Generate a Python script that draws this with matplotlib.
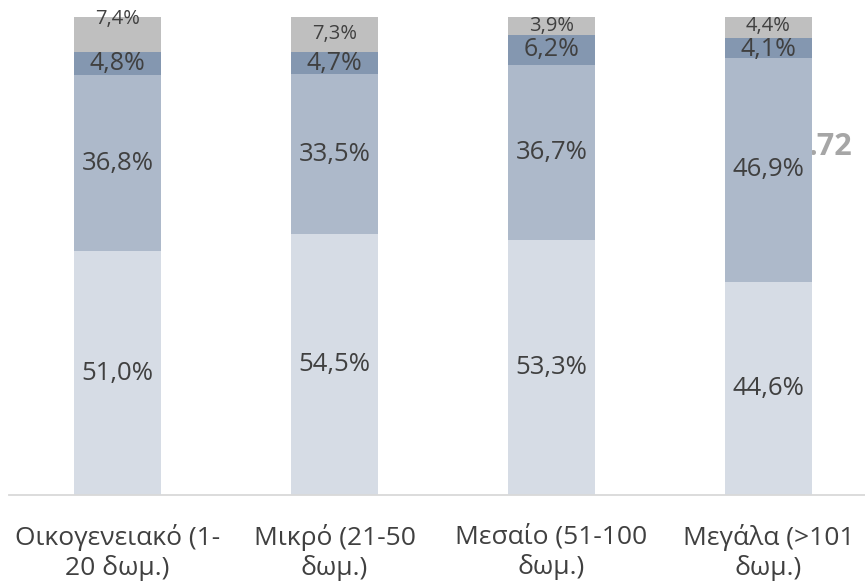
import matplotlib
matplotlib.use("Agg")
import matplotlib.pyplot as plt
import numpy as np

categories = ["Οικογενειακό (1-\n20 δωμ.)", "Μικρό (21-50\nδωμ.)",
              "Μεσαίο (51-100\nδωμ.)", "Μεγάλα (>101\nδωμ.)"]
s1 = [51.0, 54.5, 53.3, 44.6]
s2 = [36.8, 33.5, 36.7, 46.9]
s3 = [4.8, 4.7, 6.2, 4.1]
s4 = [7.4, 7.3, 3.9, 4.4]
stray_text = ".72"

series = [s1, s2, s3, s4]
colors = ["#D6DCE5", "#ADB9CA", "#8497B0", "#BFBFBF"]
label_sizes = [18.5, 18.5, 18.0, 14.5]
# vertical offsets (in % units) for individual labels (style only)
label_offsets = [[0, 0, 0, 0], [0, 0, 0, 0], [0, 0, 0, -0.3], [3.3, 0, 0, 0.3]]

W, H = 865, 587
fig = plt.figure(figsize=(W / 100, H / 100), dpi=100)
ax = fig.add_axes([9 / W, 92 / H, 868 / W, 478 / H])

x = np.arange(len(categories))
bottom = np.zeros(len(categories))
for k, vals in enumerate(series):
    vals = np.array(vals)
    ax.bar(x, vals, width=0.4, bottom=bottom, color=colors[k], zorder=2,
           edgecolor="none")
    for i, v in enumerate(vals):
        ax.text(x[i], bottom[i] + v / 2 + label_offsets[k][i],
                f"{v:.1f}%".replace(".", ","),
                ha="center", va="center", fontsize=label_sizes[k],
                color="#404040", family=["Open Sans", "DejaVu Sans"], zorder=3)
    bottom += vals

ax.set_xlim(-0.5, 3.5)
ax.set_ylim(0, 100)
for sp in ["top", "right", "left"]:
    ax.spines[sp].set_visible(False)
ax.spines["bottom"].set_color("#D9D9D9")
ax.spines["bottom"].set_linewidth(1.3)
ax.set_yticks([])
ax.set_xticks(x)
ax.set_xticklabels(categories, fontsize=19, color="#404040",
                   family=["Open Sans", "DejaVu Sans"], linespacing=1.2)
ax.tick_params(axis="x", length=0, pad=21)

# stray partially hidden text at the right edge
ax.text(852 / W, 1 - 147 / H, stray_text, transform=fig.transFigure,
        ha="right", va="center", fontsize=22, fontweight="bold",
        color="#A6A6A6", family=["Open Sans", "DejaVu Sans"], zorder=0)

fig.savefig("out.png", dpi=100)
